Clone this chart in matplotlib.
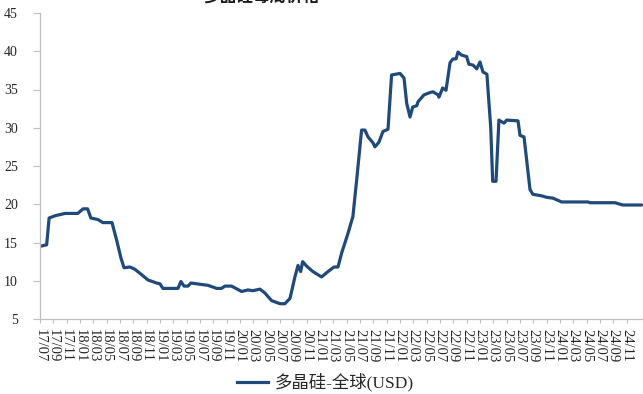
import matplotlib
matplotlib.use("Agg")
import matplotlib.pyplot as plt
import numpy as np

# Weekly polysilicon price, global (USD/kg)
dates = [
    "2017-07-01", "2017-08-01", "2017-08-12", "2017-09-09", "2017-10-24", "2017-12-21",
    "2018-01-15", "2018-02-05", "2018-02-20", "2018-03-22", "2018-04-14", "2018-05-25",
    "2018-06-16", "2018-07-05", "2018-07-19", "2018-08-16", "2018-09-08", "2018-10-08",
    "2018-11-07", "2018-12-16", "2019-01-01", "2019-01-14", "2019-03-22", "2019-04-05",
    "2019-04-19", "2019-05-07", "2019-05-20", "2019-06-16", "2019-08-07", "2019-09-16",
    "2019-10-08", "2019-10-23", "2019-11-23", "2020-01-08", "2020-02-07", "2020-02-28",
    "2020-04-01", "2020-04-23", "2020-05-23", "2020-07-01", "2020-07-23", "2020-08-16",
    "2020-09-08", "2020-09-22", "2020-10-04", "2020-10-13", "2020-11-01", "2020-11-29",
    "2021-01-08", "2021-02-07", "2021-03-04", "2021-03-22", "2021-04-08", "2021-05-07",
    "2021-05-29", "2021-06-16", "2021-07-08", "2021-07-23", "2021-08-07", "2021-08-30",
    "2021-09-08", "2021-09-26", "2021-10-14", "2021-11-07", "2021-11-23", "2022-01-01",
    "2022-01-19", "2022-02-01", "2022-02-16", "2022-02-28", "2022-03-17", "2022-03-22",
    "2022-04-19", "2022-05-16", "2022-05-29", "2022-06-22", "2022-06-26", "2022-07-13",
    "2022-07-28", "2022-08-16", "2022-08-29", "2022-09-13", "2022-09-22", "2022-10-08",
    "2022-11-01", "2022-11-11", "2022-11-29", "2022-12-16", "2023-01-01", "2023-01-14",
    "2023-02-02", "2023-02-19", "2023-02-28", "2023-03-13", "2023-03-26", "2023-04-19",
    "2023-05-01", "2023-06-22", "2023-07-01", "2023-07-19", "2023-08-16", "2023-08-29",
    "2023-10-08", "2023-11-01", "2023-11-29", "2024-01-08", "2024-05-07", "2024-05-16",
    "2024-09-08", "2024-10-14", "2025-01-08",
]
prices = [
    14.5, 14.7, 18.2, 18.5, 18.8, 18.8,
    19.4, 19.4, 18.2, 18.0, 17.6, 17.6,
    15.3, 13.0, 11.7, 11.8, 11.5, 10.8,
    10.1, 9.7, 9.6, 9.0, 9.0, 9.9,
    9.3, 9.3, 9.7, 9.6, 9.4, 9.0,
    9.0, 9.3, 9.3, 8.6, 8.8, 8.7,
    8.9, 8.4, 7.4, 7.0, 7.0, 7.7,
    10.5, 12.0, 11.2, 12.5, 11.9, 11.2,
    10.5, 11.2, 11.8, 11.8, 13.6, 16.2,
    18.4, 23.2, 29.7, 29.7, 28.8, 28.0,
    27.5, 28.1, 29.5, 29.8, 36.9, 37.1,
    36.5, 33.2, 31.4, 32.7, 32.9, 33.4,
    34.3, 34.6, 34.7, 34.3, 34.0, 35.2,
    34.9, 38.5, 39.0, 39.0, 39.9, 39.5,
    39.3, 38.3, 38.2, 37.7, 38.6, 37.3,
    37.0, 30.1, 23.0, 23.0, 31.0, 30.6,
    31.0, 30.9, 29.0, 28.8, 21.9, 21.3,
    21.1, 20.9, 20.8, 20.3, 20.3, 20.2,
    20.2, 19.9, 19.9,
]
tick_labels = [f"{y % 100:02d}/{m:02d}"
               for y in range(2017, 2025) for m in (1, 3, 5, 7, 9, 11)
               if (y, m) >= (2017, 7)]
series_name = "多晶硅-全球(USD)"
title = "多晶硅每周价格"
y_ticks = [5, 10, 15, 20, 25, 30, 35, 40, 45]

START = (2017, 7)


def month_pos(s):
    y, m, d = (int(p) for p in s.split("-"))
    return (y - START[0]) * 12 + (m - START[1]) + (d - 1) / 30.0


def label_pos(lbl):
    yy, mm = lbl.split("/")
    return (2000 + int(yy) - START[0]) * 12 + (int(mm) - START[1])


x = np.array([month_pos(d) for d in dates])
tick_x = [label_pos(t) for t in tick_labels]

W, H = 643, 394
fig = plt.figure(figsize=(W / 100, H / 100), dpi=100)
ax = fig.add_axes([40 / W, (H - 319) / H, (W - 40) / W, (319 - 13) / H])

line_color = "#1F4A7A"
ax.plot(x, prices, color=line_color, lw=2.3, solid_joinstyle="round",
        solid_capstyle="round")

ax.set_xlim(0, (W - 40) / 6.667)
ax.set_ylim(5, 45)
ax.set_yticks(y_ticks)
ax.set_xticks(tick_x)
ax.set_xticklabels(tick_labels, rotation=-90, va="top", ha="center")

serif = ["Liberation Serif", "DejaVu Serif"]
for lbl in ax.get_xticklabels():
    lbl.set_fontfamily(serif)
    lbl.set_fontsize(10.5)
    lbl.set_color("#262626")
for lbl in ax.get_yticklabels():
    lbl.set_fontfamily(serif)
    lbl.set_fontsize(10)
    lbl.set_color("#262626")

axis_gray = "#BFBFBF"
for side in ("top", "right"):
    ax.spines[side].set_visible(False)
for side in ("left", "bottom"):
    ax.spines[side].set_color(axis_gray)
    ax.spines[side].set_linewidth(0.9)
ax.tick_params(axis="y", direction="out", length=5, width=0.8, color=axis_gray, pad=11)
ax.tick_params(axis="x", direction="out", length=3, width=0.8, color=axis_gray, pad=4)

fig.text(261 / W, 1 - 7 / H, title, ha="center", va="bottom",
         fontsize=12, fontweight="bold", family=["Noto Sans CJK SC", "DejaVu Sans"],
         color="#1a1a1a")

# Legend below the axis
fig.add_artist(plt.Line2D([237 / W, 268 / W], [1 - 382 / H, 1 - 382 / H],
                          color=line_color, lw=2.3, transform=fig.transFigure))
fig.text(275 / W, 1 - 382 / H, series_name, ha="left", va="center", fontsize=12.5,
         family=["Liberation Serif", "Noto Sans CJK SC"], color="#262626")

fig.savefig("out.png", dpi=100)
